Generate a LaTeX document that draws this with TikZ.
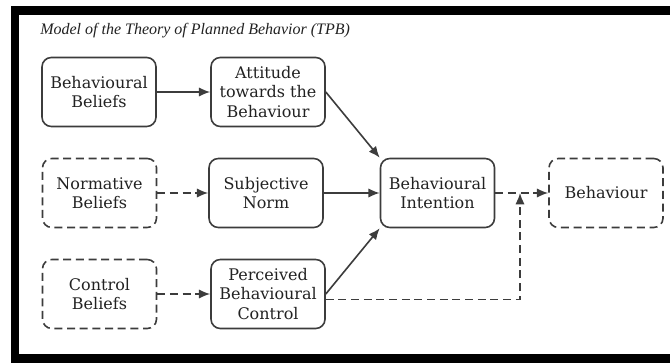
\documentclass[tikz,border=0pt]{standalone}
\usepackage{fontspec}
\setmainfont{DejaVu Serif}
\newfontfamily\titlefont{Liberation Serif}
\usetikzlibrary{arrows.meta}
\definecolor{boxline}{HTML}{3C3C3C}
\definecolor{boxtext}{HTML}{222222}

\begin{document}
\begin{tikzpicture}[x=0.75pt,y=0.75pt]
\tikzstyle{every node}+=[inner sep=0pt]
\tikzstyle{construct}=[draw=boxline, line width=1.2pt, rounded corners=7pt, minimum width=85.5pt, minimum height=51.75pt, align=center, text=boxtext, font=\fontsize{12}{14.3}\selectfont]
\tikzstyle{belief}=[construct, dash pattern=on 6pt off 3.5pt]
\tikzstyle{link}=[draw=boxline, line width=1.2pt, -{Latex[length=8.5pt,width=7pt]}]
\tikzstyle{dlink}=[link, dash pattern=on 6pt off 3.5pt]
\useasboundingbox (0,0) rectangle (670,-363);
\fill [white] (0,0) rectangle (670,-363);
% frame
\fill [black] (11,-6) rectangle (670,-15);
\fill [black] (11,-6) rectangle (19,-363);
\fill [black] (11,-354) rectangle (670,-363);
\node [anchor=base west, text=boxtext, font=\titlefont\itshape\fontsize{12}{14}\selectfont] (title) at (40,-35) {Model of the Theory of Planned Behavior (TPB)};
% beliefs
\node [construct] (bb) at (99,-92) {Behavioural\\Beliefs};
\node [belief] (nb) at (99.5,-193) {Normative\\Beliefs};
\node [belief] (cb) at (99.5,-294) {Control\\Beliefs};
% constructs
\node [construct] (att) at (268,-92) {Attitude\\towards the\\Behaviour};
\node [construct] (sn) at (266,-193) {Subjective\\Norm};
\node [construct] (pbc) at (268,-294) {Perceived\\Behavioural\\Control};
\node [construct] (bi) at (437.5,-193) {Behavioural\\Intention};
\node [belief] (beh) at (606,-193) {Behaviour};
\coordinate (join) at (520,-193);
% arrows
\draw [link] (bb) -- (att);
\draw [dlink] (nb) -- (sn);
\draw [dlink] (cb) -- (pbc);
\draw [link] (att.east) -- (bi.north west);
\draw [link] (sn) -- (bi);
\draw [link] (pbc.east) -- (bi.south west);
\draw [dlink] (bi) -- (beh);
\draw [dlink] ([yshift=-4pt]pbc.east) -| (join);
\end{tikzpicture}
\end{document}
